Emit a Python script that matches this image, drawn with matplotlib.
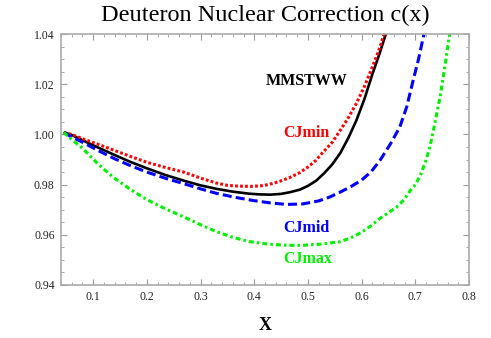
import matplotlib
matplotlib.use("Agg")
import matplotlib.pyplot as plt
from matplotlib.ticker import MultipleLocator, FormatStrFormatter

plt.rcParams['font.family'] = ['Liberation Serif', 'DejaVu Serif']
plt.rcParams['lines.scale_dashes'] = False

# ----------- data ------------------------------------#
x_mmstww = [0.045, 0.06, 0.08, 0.11, 0.14, 0.17, 0.20, 0.235, 0.27, 0.30, 0.33, 0.36, 0.39, 0.41, 0.43,
            0.45, 0.467, 0.485, 0.50, 0.515, 0.53, 0.545, 0.56, 0.575, 0.59, 0.605, 0.62, 0.633, 0.645]
y_mmstww = [1.0008, 0.9998, 0.9977, 0.9947, 0.9918, 0.9890, 0.9865, 0.9838, 0.9815, 0.9797, 0.9783, 0.9772,
            0.9764, 0.9761, 0.9760, 0.9763, 0.9770, 0.9780, 0.9795, 0.9815, 0.9845, 0.9880, 0.9925, 0.9985,
            1.0055, 1.0140, 1.0240, 1.0320, 1.0400]

x_cjmin = [0.045, 0.06, 0.08, 0.11, 0.14, 0.17, 0.20, 0.235, 0.27, 0.30, 0.33, 0.35, 0.37, 0.395, 0.417,
           0.435, 0.45, 0.467, 0.485, 0.50, 0.515, 0.528, 0.545, 0.56, 0.575, 0.59, 0.605, 0.62, 0.632, 0.642]
y_cjmin = [1.0008, 1.0000, 0.9983, 0.9960, 0.9936, 0.9912, 0.9889, 0.9868, 0.9849, 0.9826, 0.9806, 0.9797,
           0.9794, 0.9793, 0.9796, 0.9805, 0.9815, 0.9829, 0.9848, 0.9870, 0.9897, 0.9929, 0.9968, 1.0016,
           1.0066, 1.0123, 1.0190, 1.0269, 1.0335, 1.0400]

x_cjmid = [0.045, 0.06, 0.08, 0.11, 0.14, 0.17, 0.20, 0.235, 0.27, 0.30, 0.33, 0.365, 0.40, 0.43, 0.46,
           0.49, 0.52, 0.54, 0.56, 0.58, 0.60, 0.618, 0.634, 0.653, 0.671, 0.684, 0.696, 0.706, 0.716]
y_cjmid = [1.0008, 0.9990, 0.9969, 0.9935, 0.9903, 0.9875, 0.9850, 0.9825, 0.9803, 0.9783, 0.9765, 0.9749,
           0.9736, 0.9727, 0.9721, 0.9723, 0.9735, 0.9750, 0.9770, 0.9792, 0.9818, 0.9852, 0.9896, 0.9960,
           1.0029, 1.0110, 1.0216, 1.0300, 1.0400]

x_cjmax = [0.045, 0.06, 0.08, 0.11, 0.14, 0.17, 0.20, 0.235, 0.27, 0.30, 0.33, 0.36, 0.39, 0.425, 0.46,
           0.49, 0.52, 0.56, 0.58, 0.60, 0.617, 0.634, 0.65, 0.665, 0.68, 0.69, 0.70, 0.709, 0.718, 0.727,
           0.736, 0.746, 0.755, 0.764]
y_cjmax = [1.0008, 0.9980, 0.9945, 0.9880, 0.9825, 0.9780, 0.9740, 0.9703, 0.9670, 0.9640, 0.9612, 0.9590,
           0.9573, 0.9563, 0.9558, 0.9558, 0.9562, 0.9572, 0.9588, 0.9610, 0.9635, 0.9665, 0.9688, 0.9710,
           0.9742, 0.9775, 0.9800, 0.9835, 0.9885, 0.9949, 1.0040, 1.0149, 1.0270, 1.0400]

x_ticks = [0.1, 0.2, 0.3, 0.4, 0.5, 0.6, 0.7, 0.8]
y_ticks = [0.94, 0.96, 0.98, 1.00, 1.02, 1.04]

fig = plt.figure(figsize=(4.91, 3.38), dpi=100)
ax = fig.add_axes([0.1242, 0.157, 0.831, 0.742])

ax.plot(x_mmstww, y_mmstww, color='black', lw=1.9, solid_capstyle='butt')
ax.plot(x_cjmin, y_cjmin, color='#ff0000', lw=2.2, dashes=(2.0, 1.6))
ax.plot(x_cjmid, y_cjmid, color='#0000ff', lw=2.2, dashes=(6.5, 3.0))
ax.plot(x_cjmax, y_cjmax, color='#00ee00', lw=2.2, dashes=(3.6, 2.2, 1.8, 2.2))

lab = dict(fontsize=11.5, fontweight='bold', ha='center', va='center')
ax.text(0.498, 1.0212, 'MMSTWW', color='black', **lab)
ax.text(0.498, 1.0004, 'CJmin', color='#ff0000', **lab)
ax.text(0.498, 0.9628, 'CJmid', color='#0000ff', **lab)
ax.text(0.500, 0.9504, 'CJmax', color='#00ee00', **lab)

ax.set_xlim(0.04, 0.8)
ax.set_ylim(0.94, 1.04)
ax.set_xticks(x_ticks)
ax.set_yticks(y_ticks)
ax.yaxis.set_major_formatter(FormatStrFormatter('%.2f'))
ax.xaxis.set_minor_locator(MultipleLocator(0.02))
ax.yaxis.set_minor_locator(MultipleLocator(0.005))
ax.tick_params(which='both', direction='in', top=True, right=True, color='#999999',
               labelsize=8.5, labelcolor='#222222')
ax.tick_params(which='major', length=4.5, width=0.8, pad=4.5)
ax.tick_params(which='minor', length=2.5, width=0.6)
for s in ax.spines.values():
    s.set_color('#aaaaaa')
    s.set_linewidth(1.2)

fig.text(0.54, 0.955, 'Deuteron Nuclear Correction c(x)', fontsize=17.5, ha='center', va='center')
fig.text(0.54, 0.038, 'X', fontsize=13, fontweight='bold', ha='center', va='center')

fig.savefig('out.png', dpi=100)
